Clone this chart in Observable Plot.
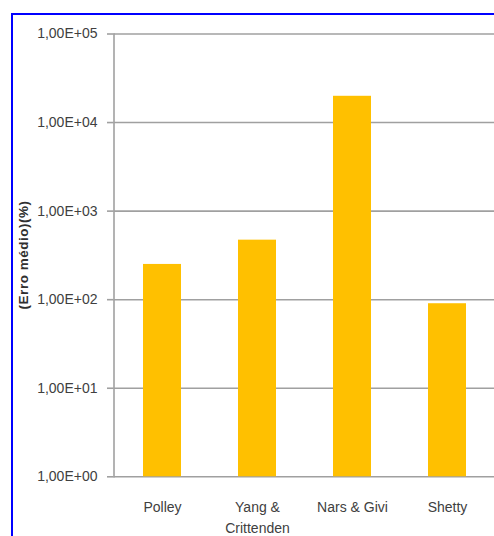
<!DOCTYPE html>
<html>
<head>
<meta charset="utf-8">
<script src="https://cdn.jsdelivr.net/npm/d3@7"></script>
<script src="https://cdn.jsdelivr.net/npm/@observablehq/plot@0.6"></script>
<style>
  html, body { margin: 0; padding: 0; background: #fff; overflow: hidden; }
  #frame { position: absolute; left: 11px; top: 13px; width: 600px; height: 600px;
           border-left: 2px solid #0000ff; border-top: 2px solid #0000ff; box-sizing: border-box; }
  #chart { position: absolute; left: 0; top: 0; }
  #ylabel { position: absolute; left: 23px; top: 255px; transform: translate(-50%, -50%) rotate(-90deg);
            font: bold 13.5px "Liberation Sans", sans-serif; letter-spacing: 0.5px; color: #303030; white-space: nowrap; }
</style>
</head>
<body>
<div id="frame"></div>
<div id="chart"></div>
<div id="ylabel">(Erro médio)(%)</div>
<script>
const categories = ["Polley", "Yang & Crittenden", "Nars & Givi", "Shetty"];
const categoryLabels = ["Polley", "Yang &\nCrittenden", "Nars & Givi", "Shetty"];
const values = [250, 470, 19800, 90];
const yTicks = [1, 10, 100, 1000, 10000, 100000];
const yTickLabels = ["1,00E+00", "1,00E+01", "1,00E+02", "1,00E+03", "1,00E+04", "1,00E+05"];

const data = categories.map((c, i) => ({category: c, value: values[i]}));
const font = '"Liberation Sans Narrow", "Liberation Sans", sans-serif';

const chart = Plot.plot({
  width: 494,
  height: 536,
  marginTop: 33.5,
  marginBottom: 59.7,
  marginLeft: 113.5,
  marginRight: 0,
  style: {fontFamily: font, fontSize: "14px", color: "#404040", background: "transparent", overflow: "hidden"},
  x: {domain: categories, range: [113.5, 496], paddingInner: 0.6, paddingOuter: 0.3, label: null},
  y: {type: "log", domain: [1, 100000], label: null},
  marks: [
    Plot.gridY({ticks: yTicks, stroke: "#a0a0a0", strokeOpacity: 1, strokeWidth: 1.6}),
    Plot.frame({anchor: "left", stroke: "#a0a0a0", strokeWidth: 1.6}),
    Plot.barY(data, {x: "category", y1: 1, y2: "value", fill: "#ffc000"}),
    Plot.axisY({ticks: yTicks, tickFormat: d => yTickLabels[yTicks.indexOf(d)], tickSize: 6.5, tickPadding: 10, stroke: "#a0a0a0", strokeWidth: 1.6, fill: "#404040", fontSize: 14}),
    Plot.axisX({tickFormat: d => categoryLabels[categories.indexOf(d)], tickSize: 0, tickPadding: 21, fill: "#404040", fontSize: 14, lineHeight: 1.45})
  ]
});
document.getElementById("chart").appendChild(chart);
</script>
</body>
</html>
